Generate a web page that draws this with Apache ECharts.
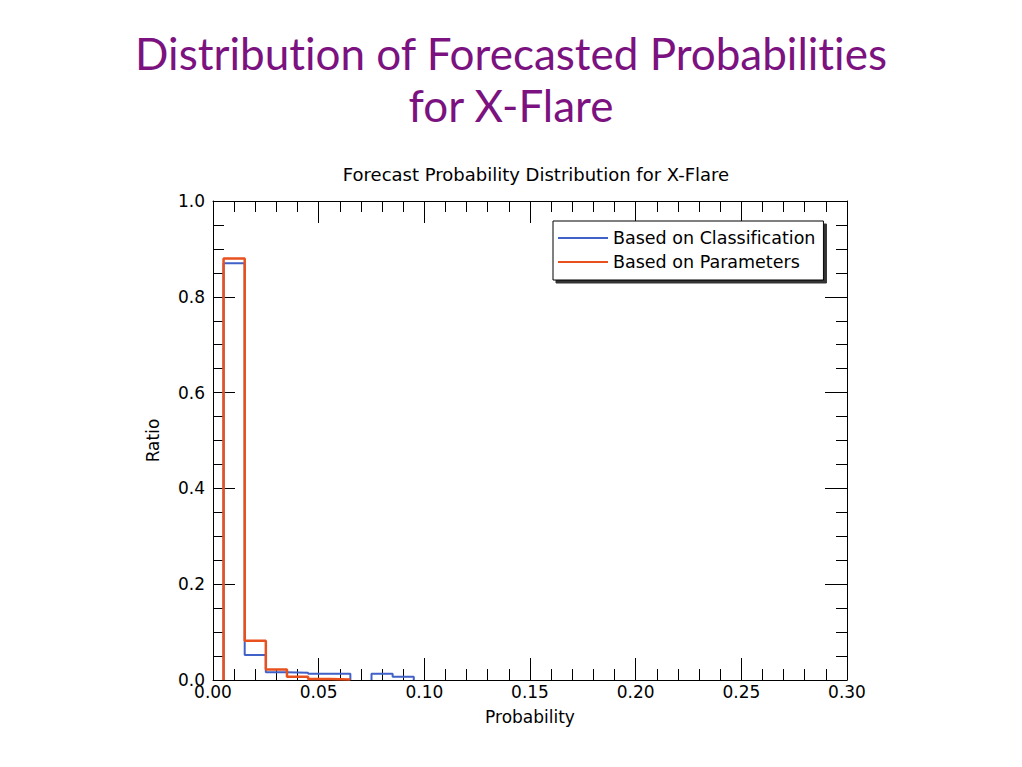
<!DOCTYPE html>
<html>
<head>
<meta charset="utf-8">
<script src="https://cdn.jsdelivr.net/npm/echarts@6/dist/echarts.min.js"></script>
<style>
html,body{margin:0;padding:0;background:#fff;}
#chart{width:1022px;height:767px;}
#chart svg text{font-variant-ligatures:none;font-feature-settings:"liga" 0,"clig" 0;}
</style>
</head>
<body>
<div id="chart"></div>
<script>
// Histogram bins (left edges) and closing edge
const binEdges = [0.005, 0.015, 0.025, 0.035, 0.045, 0.055, 0.065, 0.075, 0.085, 0.095];
const basedOnClassification = [0.87, 0.052, 0.016, 0.015, 0.013, 0.013, 0, 0.013, 0.007];
const basedOnParameters = [0.88, 0.082, 0.022, 0.007, 0.002, 0.001];
const xTicks = [0, 0.05, 0.10, 0.15, 0.20, 0.25, 0.30];
const yTicks = [0, 0.2, 0.4, 0.6, 0.8, 1.0];
const seriesNames = ['Based on Classification', 'Based on Parameters'];

function stepPoints(edges, vals) {
  const pts = [];
  let open = false;
  for (let i = 0; i < vals.length; i++) {
    const v = vals[i];
    if (v > 0) {
      if (!open) { pts.push([edges[i], 0]); open = true; }
      pts.push([edges[i], v]);
      pts.push([edges[i + 1], v]);
    } else {
      if (open) { pts.push([edges[i], 0]); pts.push([edges[i], '-']); open = false; }
    }
  }
  if (open) pts.push([edges[vals.length], 0]);
  return pts;
}

const font = '"DejaVu Sans", sans-serif';
const chart = echarts.init(document.getElementById('chart'), null, {renderer: 'svg'});

const axisCommon = {
  type: 'value',
  axisLine: {show: true, onZero: false, lineStyle: {color: '#000', width: 1}},
  axisTick: {show: true, inside: true, length: 22, lineStyle: {color: '#000', width: 1}},
  minorTick: {show: true, length: 11, lineStyle: {color: '#000', width: 1}},
  splitLine: {show: false},
  minorSplitLine: {show: false}
};

chart.setOption({
  backgroundColor: '#fff',
  animation: false,
  title: [
    {
      text: 'Distribution of Forecasted Probabilities\nfor X-Flare',
      left: 'center', top: 22,
      textStyle: {color: '#7b127f', fontSize: 44, fontWeight: 'normal', fontFamily: 'Lato, sans-serif', lineHeight: 52}
    },
    {
      text: 'Forecast Probability Distribution for X-Flare',
      left: 531, textAlign: 'center', top: 160,
      textStyle: {color: '#000', fontSize: 18, fontWeight: 'normal', fontFamily: font}
    }
  ],
  legend: {
    orient: 'vertical',
    left: 553, top: 221,
    padding: [7, 8, 8, 5],
    itemGap: 4,
    itemWidth: 50,
    itemHeight: 2,
    icon: 'rect',
    backgroundColor: '#fff',
    borderColor: '#000',
    borderWidth: 1,
    shadowColor: 'rgba(0,0,0,0.8)',
    shadowOffsetX: 3,
    shadowOffsetY: 3,
    shadowBlur: 1,
    textStyle: {color: '#000', fontSize: 17.5, fontFamily: font, lineHeight: 20},
    data: seriesNames
  },
  grid: {left: 213, right: 175, top: 201, bottom: 87},
  xAxis: [
    Object.assign({}, axisCommon, {
      min: 0, max: 0.3, interval: 0.05, position: 'bottom',
      minorTick: Object.assign({}, axisCommon.minorTick, {splitNumber: 5}),
      name: 'Probability', nameLocation: 'middle', nameGap: 28,
      nameTextStyle: {color: '#000', fontSize: 17, fontFamily: font},
      axisLabel: {color: '#000', fontSize: 17, fontFamily: font, margin: 3,
        formatter: v => v.toFixed(2)}
    }),
    Object.assign({}, axisCommon, {
      min: 0, max: 0.3, interval: 0.05, position: 'top',
      minorTick: Object.assign({}, axisCommon.minorTick, {splitNumber: 5}),
      axisLabel: {show: false}
    })
  ],
  yAxis: [
    Object.assign({}, axisCommon, {
      min: 0, max: 1, interval: 0.2, position: 'left',
      minorTick: Object.assign({}, axisCommon.minorTick, {splitNumber: 4}),
      name: 'Ratio', nameLocation: 'middle', nameGap: 52, nameRotate: 90,
      nameTextStyle: {color: '#000', fontSize: 17, fontFamily: font},
      axisLabel: {color: '#000', fontSize: 17, fontFamily: font, margin: 8,
        formatter: v => v.toFixed(1)}
    }),
    Object.assign({}, axisCommon, {
      min: 0, max: 1, interval: 0.2, position: 'right',
      minorTick: Object.assign({}, axisCommon.minorTick, {splitNumber: 4}),
      axisLabel: {show: false}
    })
  ],
  series: [
    {
      name: seriesNames[0], type: 'line', xAxisIndex: 0, yAxisIndex: 0,
      symbol: 'none', connectNulls: false,
      lineStyle: {color: '#4062c8', width: 2}, itemStyle: {color: '#4062c8'},
      data: stepPoints(binEdges, basedOnClassification), z: 2
    },
    {
      name: seriesNames[1], type: 'line', xAxisIndex: 0, yAxisIndex: 0,
      symbol: 'none', connectNulls: false,
      lineStyle: {color: '#e8501e', width: 2.5}, itemStyle: {color: '#e8501e'},
      data: stepPoints(binEdges, basedOnParameters), z: 3
    }
  ]
});
</script>
</body>
</html>
